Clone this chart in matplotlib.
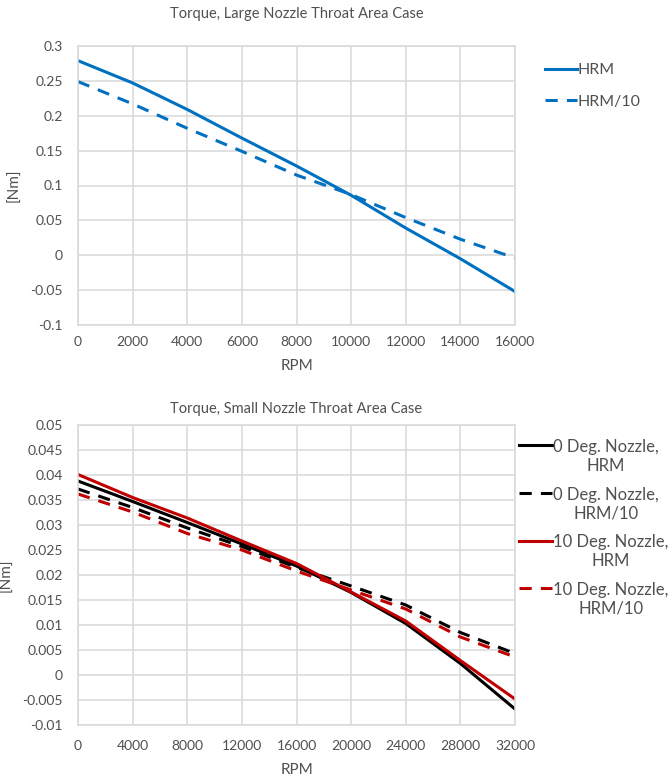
import matplotlib
matplotlib.use("Agg")
import matplotlib.pyplot as plt
from matplotlib.legend_handler import HandlerLine2D
from matplotlib.transforms import Affine2D

plt.rcParams['font.family'] = ['Lato', 'DejaVu Sans']

# ---- Large nozzle throat area case ----
rpm_large = [0, 2000, 4000, 6000, 8000, 10000, 12000, 14000, 16000]
torque_large_hrm = [0.279, 0.247, 0.209, 0.168, 0.128, 0.086, 0.039, -0.005, -0.052]
torque_large_hrm10 = [0.249, 0.217, 0.182, 0.149, 0.115, 0.087, 0.054, 0.023, -0.004]
large_xticks = [0, 2000, 4000, 6000, 8000, 10000, 12000, 14000, 16000]
large_yticks = [-0.1, -0.05, 0, 0.05, 0.1, 0.15, 0.2, 0.25, 0.3]
large_ylabels = ["-0.1", "-0.05", "0", "0.05", "0.1", "0.15", "0.2", "0.25", "0.3"]

# ---- Small nozzle throat area case ----
rpm_small = [0, 4000, 8000, 12000, 16000, 20000, 24000, 28000, 32000]
torque_0deg_hrm = [0.0388, 0.0347, 0.0305, 0.0262, 0.0218, 0.0165, 0.0103, 0.0023, -0.0068]
torque_0deg_hrm10 = [0.0372, 0.0335, 0.0294, 0.0257, 0.0215, 0.0178, 0.0140, 0.0085, 0.0043]
torque_10deg_hrm = [0.0401, 0.0355, 0.0314, 0.0268, 0.0223, 0.0166, 0.0108, 0.0029, -0.0048]
torque_10deg_hrm10 = [0.0362, 0.0326, 0.0283, 0.0250, 0.0208, 0.0170, 0.0132, 0.0076, 0.0036]
small_xticks = [0, 4000, 8000, 12000, 16000, 20000, 24000, 28000, 32000]
small_yticks = [-0.01, -0.005, 0, 0.005, 0.01, 0.015, 0.02, 0.025, 0.03, 0.035, 0.04, 0.045, 0.05]
small_ylabels = ["-0.01", "-0.005", "0", "0.005", "0.01", "0.015", "0.02", "0.025",
                 "0.03", "0.035", "0.04", "0.045", "0.05"]

BLUE = "#0070C0"
RED = "#C00000"
BLACK = "#000000"
GRID = "#D9D9D9"
TEXT = "#505050"
LW = 2.2
DASH = (4, 3)

fig = plt.figure(figsize=(6.68, 7.78), dpi=100)
W, H = 668, 778


def px_axes(left, top, right, bottom):
    return fig.add_axes([left / W, 1 - bottom / H, (right - left) / W, (bottom - top) / H])


def style_axes(ax, xticks, yticks, ylabels, title, title_pad, xpad, xlabelpad):
    ax.set_xticks(xticks)
    ax.set_xticklabels([str(v) for v in xticks])
    ax.set_yticks(yticks)
    ax.set_yticklabels(ylabels)
    ax.set_xlim(xticks[0], xticks[-1])
    ax.set_ylim(yticks[0], yticks[-1])
    ax.grid(True, color=GRID, linewidth=1.1)
    ax.set_axisbelow(True)
    for sp in ax.spines.values():
        sp.set_color(GRID)
        sp.set_linewidth(1.1)
    ax.tick_params(axis='both', length=0, labelsize=10, colors=TEXT)
    ax.tick_params(axis='x', pad=xpad)
    ax.tick_params(axis='y', pad=11)
    ax.set_xlabel("RPM", fontsize=11, color=TEXT, labelpad=xlabelpad)
    ax.set_ylabel("[Nm]", fontsize=11, color=TEXT, labelpad=6)
    ax.set_title(title, fontsize=10.5, color=TEXT, pad=title_pad)


class RaisedLine(HandlerLine2D):
    """Legend line handler drawn level with the first line of a two-line label."""
    def __init__(self, dy=0, **kw):
        super().__init__(**kw)
        self.dy = dy

    def create_artists(self, legend, orig_handle, xdescent, ydescent, width, height, fontsize, trans):
        return super().create_artists(legend, orig_handle, xdescent, ydescent, width, height,
                                      fontsize, Affine2D().translate(0, self.dy) + trans)


# Top chart
ax1 = px_axes(78, 46, 515, 325)
style_axes(ax1, large_xticks, large_yticks, large_ylabels,
           "Torque, Large Nozzle Throat Area Case", title_pad=20, xpad=8, xlabelpad=8)
ax1.plot(rpm_large, torque_large_hrm, color=BLUE, lw=LW, label="HRM")
ax1.plot(rpm_large, torque_large_hrm10, color=BLUE, lw=LW, dashes=DASH, label="HRM/10")
leg1 = ax1.legend(loc="upper left", bbox_to_anchor=(545 / W, 1 - 63 / H),
                  bbox_transform=fig.transFigure, frameon=False, fontsize=11.5,
                  handlelength=2.0, handletextpad=0.05, labelspacing=1.08, borderpad=0,
                  borderaxespad=0)
for t in leg1.get_texts():
    t.set_color(TEXT)

# Bottom chart
ax2 = px_axes(78, 425, 515, 725)
style_axes(ax2, small_xticks, small_yticks, small_ylabels,
           "Torque, Small Nozzle Throat Area Case", title_pad=9, xpad=11, xlabelpad=8)
l1, = ax2.plot(rpm_small, torque_0deg_hrm, color=BLACK, lw=LW, label="0 Deg. Nozzle,\nHRM")
l2, = ax2.plot(rpm_small, torque_0deg_hrm10, color=BLACK, lw=LW, dashes=DASH,
               label="0 Deg. Nozzle,\nHRM/10")
l3, = ax2.plot(rpm_small, torque_10deg_hrm, color=RED, lw=LW, label="10 Deg. Nozzle,\nHRM")
l4, = ax2.plot(rpm_small, torque_10deg_hrm10, color=RED, lw=LW, dashes=DASH,
               label="10 Deg. Nozzle,\nHRM/10")
leg2 = ax2.legend(loc="upper left", bbox_to_anchor=(519 / W, 1 - 439 / H),
                  bbox_transform=fig.transFigure, frameon=False, fontsize=12,
                  handlelength=2.0, handletextpad=0.05, labelspacing=0.78, borderpad=0,
                  borderaxespad=0,
                  handler_map={h: RaisedLine(dy=8.3) for h in (l1, l2, l3, l4)})
for t in leg2.get_texts():
    t.set_color(TEXT)
    t.set_multialignment("center")

fig.savefig("out.png", dpi=100)
